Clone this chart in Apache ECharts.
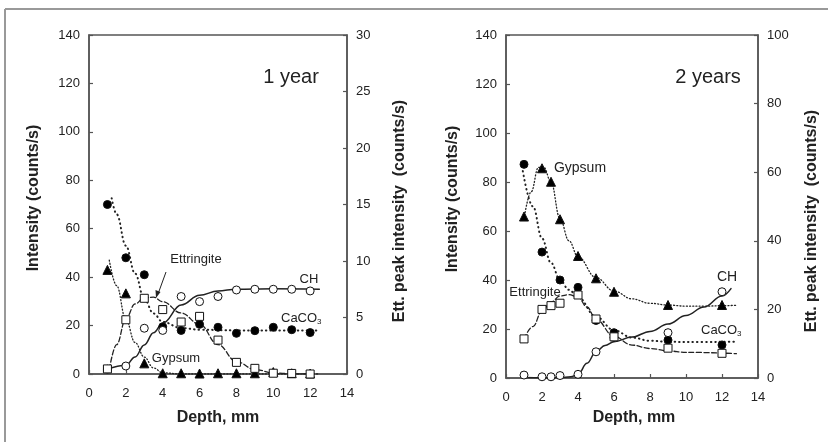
<!DOCTYPE html>
<html><head><meta charset="utf-8">
<script src="https://cdn.jsdelivr.net/npm/echarts@6/dist/echarts.min.js"></script>
<style>html,body{margin:0;padding:0;background:#fff}#c{width:828px;height:442px}</style>
</head><body><div id="c"></div>
<script>
// ---------- axis ticks ----------
const xTicks = [0, 14, 2];
const leftTicks = [0, 140, 20];
const ett1Ticks = [0, 30, 5];
const ett2Ticks = [0, 100, 20];

// ---------- 1 year: measured points ----------
const depth1 = [1, 2, 3, 4, 5, 6, 7, 8, 9, 10, 11, 12];
const ch1 = [2, 3.3, 18.9, 18, 32, 29.9, 32, 34.7, 35, 35, 35, 34.3];
const ett1 = [0.45, 4.8, 6.7, 5.7, 4.6, 5.1, 3.0, 1.03, 0.5, 0.07, 0.05, 0];
const gyp1 = [43, 33.3, 4.4, 0.3, 0.3, 0.2, 0.3, 0.3, 0.3, 0.8, 0.3, 0.2];
const caco1 = [70, 48, 41, 19.5, 18, 20.5, 19.3, 16.8, 17.9, 19.3, 18.3, 17.1];

// ---------- 1 year: fitted curves ----------
const ch1CurveX = [1, 2, 2.5, 3, 3.5, 4, 5, 6, 7, 8, 10, 12.5];
const ch1CurveY = [2, 3.6, 7, 12, 17, 21, 28.5, 32.5, 34.3, 35, 35.2, 35];
const ett1CurveX = [1.1, 1.5, 2, 2.5, 3, 3.5, 4, 5, 6, 7, 8, 9, 10, 11, 12];
const ett1CurveY = [0.4, 2.6, 4.9, 6.2, 6.75, 6.8, 6.4, 5.4, 4.4, 2.6, 1.1, 0.4, 0.1, 0.02, 0];
const gyp1CurveX = [1.1, 1.5, 2, 2.5, 3, 3.5, 4, 5, 8, 12.5];
const gyp1CurveY = [47, 36.5, 22.5, 13, 7, 2.5, 0.5, 0, 0, 0];
const caco1CurveX = [1.23, 1.5, 2, 2.5, 3, 3.5, 4, 5, 6, 8, 10, 12.5];
const caco1CurveY = [72.6, 66, 53, 41.5, 31, 25, 21.5, 19, 18.3, 18, 18, 18];

// ---------- 2 years: measured points ----------
const depth2 = [1, 2, 2.5, 3, 4, 5, 6, 9, 12];
const ch2 = [1.2, 0.5, 0.5, 1, 1.5, 10.7, 16.5, 18.5, 35.2];
const ett2 = [11.4, 20, 21.1, 21.8, 24.2, 17.2, 12.0, 8.7, 7.2];
const gyp2 = [65.9, 85.6, 80.1, 64.8, 49.8, 40.7, 35.2, 29.8, 29.8];
const cacoDepth2 = [1, 2, 3, 4, 5, 6, 9, 12];
const caco2 = [87.2, 51.4, 40, 37, 23.5, 18.5, 15.5, 13.5];

// ---------- 2 years: fitted curves ----------
const ch2CurveX = [1, 2, 3, 3.6, 4, 4.5, 5, 5.5, 6, 7, 8, 9, 10, 11, 12, 12.5];
const ch2CurveY = [0.2, 0.1, 0.2, 0.5, 1.5, 6, 10.7, 13.3, 14.8, 16.7, 19, 22, 25.5, 29, 33.5, 36.5];
const ett2CurveX = [1, 1.5, 2, 2.5, 3, 3.5, 4, 4.5, 5, 6, 7, 8, 9, 10, 12.8];
const ett2CurveY = [11.4, 15, 19.6, 22.1, 23.9, 24.3, 23.6, 20.7, 17.1, 12.1, 9.6, 8.6, 7.9, 7.5, 7.1];
const gyp2CurveX = [1, 1.4, 1.8, 2.1, 2.5, 3, 3.5, 4, 5, 6, 7, 8, 9, 10, 11, 12, 12.8];
const gyp2CurveY = [65, 76, 86, 86, 80, 65, 56, 49.5, 41, 35.5, 32.3, 30.5, 29.8, 29.3, 29.3, 29.5, 29.7];
const caco2CurveX = [0.85, 1.5, 2, 2.5, 3, 3.5, 4, 5, 6, 7, 8, 9, 10, 12.8];
const caco2CurveY = [88, 70, 57, 47, 40, 36, 33, 25, 19.5, 16.5, 15.2, 14.8, 14.7, 14.8];

const zip = (xs, ys) => xs.map((x, i) => [x, ys[i]]);
const INK = '#222';
const AX = '#555';
const FONT = 'Liberation Sans, Arial, sans-serif';

function xAxisCfg(gi) {
  return {
    gridIndex: gi, type: 'value', min: xTicks[0], max: xTicks[1], interval: xTicks[2],
    axisLine: { show: true, lineStyle: { color: AX, width: 1.5 } },
    axisTick: { show: true, inside: true, length: 4, lineStyle: { color: AX, width: 1.2 } },
    axisLabel: { color: INK, fontSize: 13, fontFamily: FONT, margin: 13 },
    splitLine: { show: false }
  };
}
function yAxisCfg(gi, ticks, pos) {
  return {
    gridIndex: gi, type: 'value', position: pos, min: ticks[0], max: ticks[1], interval: ticks[2],
    axisLine: { show: true, onZero: false, lineStyle: { color: AX, width: 1.5 } },
    axisTick: { show: true, inside: true, length: 4, lineStyle: { color: AX, width: 1.2 } },
    axisLabel: { color: INK, fontSize: 13, fontFamily: FONT, margin: 9 },
    splitLine: { show: false }
  };
}
function curve(xi, yi, data, type, width) {
  return {
    type: 'line', xAxisIndex: xi, yAxisIndex: yi, data: data, showSymbol: false,
    smooth: 0.4, smoothMonotone: 'x', silent: true, z: 2,
    lineStyle: { color: INK, width: width, type: type, cap: 'round' }
  };
}
function pts(xi, yi, data, symbol, filled, size) {
  return {
    type: 'scatter', xAxisIndex: xi, yAxisIndex: yi, data: data, symbol: symbol, symbolSize: size, z: 5,
    itemStyle: { color: filled ? '#000' : '#fff', borderColor: '#111', borderWidth: 1, opacity: 1 }
  };
}
const DOT_FINE = [1, 2.2];
const DOT_COARSE = [0.5, 4];
const DASH = [5, 2.5];

const sub = (base, s) => ({
  text: '{a|' + base + '}{s|' + s + '}',
  rich: { a: { fontSize: 13, fontFamily: FONT, fill: INK }, s: { fontSize: 8, fontFamily: FONT, fill: INK, padding: [8, 0, 0, 0] } }
});

function txt(x, y, t, size, opts) {
  return Object.assign({
    type: 'text', x: x, y: y, silent: true,
    style: { text: t, fontSize: size, fontFamily: FONT, fill: INK, textAlign: 'center', textVerticalAlign: 'middle', fontWeight: (opts && opts.bold) ? 'bold' : 'normal' }
  }, opts && opts.rot ? { rotation: Math.PI / 2 } : {});
}

const chart = echarts.init(document.getElementById('c'), null, { renderer: 'canvas' });
chart.setOption({
  animation: false,
  backgroundColor: '#fff',
  grid: [
    { left: 89, top: 35, width: 258, height: 339, show: true, borderColor: AX, borderWidth: 1.5 },
    { left: 506, top: 35, width: 252, height: 343, show: true, borderColor: AX, borderWidth: 1.5 }
  ],
  xAxis: [xAxisCfg(0), xAxisCfg(1)],
  yAxis: [
    yAxisCfg(0, leftTicks, 'left'), yAxisCfg(0, ett1Ticks, 'right'),
    yAxisCfg(1, leftTicks, 'left'), yAxisCfg(1, ett2Ticks, 'right')
  ],
  series: [
    curve(0, 0, zip(gyp1CurveX, gyp1CurveY), DOT_FINE, 1.3),
    curve(0, 0, zip(caco1CurveX, caco1CurveY), DOT_COARSE, 2),
    curve(0, 1, zip(ett1CurveX, ett1CurveY), DASH, 1.3),
    curve(0, 0, zip(ch1CurveX, ch1CurveY), 'solid', 1.5),
    pts(0, 0, zip(depth1, caco1), 'circle', true, 8),
    pts(0, 0, zip(depth1, gyp1), 'triangle', true, 9),
    pts(0, 0, zip(depth1, ch1), 'circle', false, 8),
    pts(0, 1, zip(depth1, ett1), 'rect', false, 8),

    curve(1, 2, zip(gyp2CurveX, gyp2CurveY), DOT_FINE, 1.3),
    curve(1, 2, zip(caco2CurveX, caco2CurveY), DOT_COARSE, 2),
    curve(1, 3, zip(ett2CurveX, ett2CurveY), DASH, 1.3),
    curve(1, 2, zip(ch2CurveX, ch2CurveY), 'solid', 1.5),
    pts(1, 2, zip(cacoDepth2, caco2), 'circle', true, 8),
    pts(1, 2, zip(depth2, gyp2), 'triangle', true, 9),
    pts(1, 2, zip(depth2, ch2), 'circle', false, 8),
    pts(1, 3, zip(depth2, ett2), 'rect', false, 8)
  ],
  graphic: [
    { type: 'line', silent: true, shape: { x1: 5, y1: 9, x2: 828, y2: 9 }, style: { stroke: '#999', lineWidth: 2 } },
    { type: 'line', silent: true, shape: { x1: 5, y1: 9, x2: 5, y2: 442 }, style: { stroke: '#999', lineWidth: 2 } },
    txt(34, 198, 'Intensity (counts/s)', 16, { bold: true, rot: true }),
    txt(400, 211, 'Ett. peak intensity  (counts/s)', 16, { bold: true, rot: true }),
    txt(453, 199, 'Intensity (counts/s)', 16, { bold: true, rot: true }),
    txt(812, 221, 'Ett. peak intensity  (counts/s)', 16, { bold: true, rot: true }),
    txt(218, 418, 'Depth, mm', 16, { bold: true }),
    txt(634, 418, 'Depth, mm', 16, { bold: true }),
    txt(291, 77, '1 year', 20),
    txt(708, 77, '2 years', 20),
    txt(196, 259, 'Ettringite', 13),
    { type: 'line', silent: true, shape: { x1: 166, y1: 272, x2: 158, y2: 294 }, style: { stroke: INK, lineWidth: 1 } },
    { type: 'polygon', silent: true, shape: { points: [[156, 298], [155.5, 290], [160.5, 292]] }, style: { fill: INK } },
    txt(309, 279, 'CH', 13),
    { type: 'text', x: 281, y: 318, silent: true, style: Object.assign(sub('CaCO', '3'), { textAlign: 'left', textVerticalAlign: 'middle' }) },
    txt(176, 358, 'Gypsum', 13),
    txt(580, 168, 'Gypsum', 14),
    txt(535, 292, 'Ettringite', 13),
    txt(727, 277, 'CH', 14),
    { type: 'text', x: 701, y: 330, silent: true, style: Object.assign(sub('CaCO', '3'), { textAlign: 'left', textVerticalAlign: 'middle' }) }
  ]
});
</script></body></html>
